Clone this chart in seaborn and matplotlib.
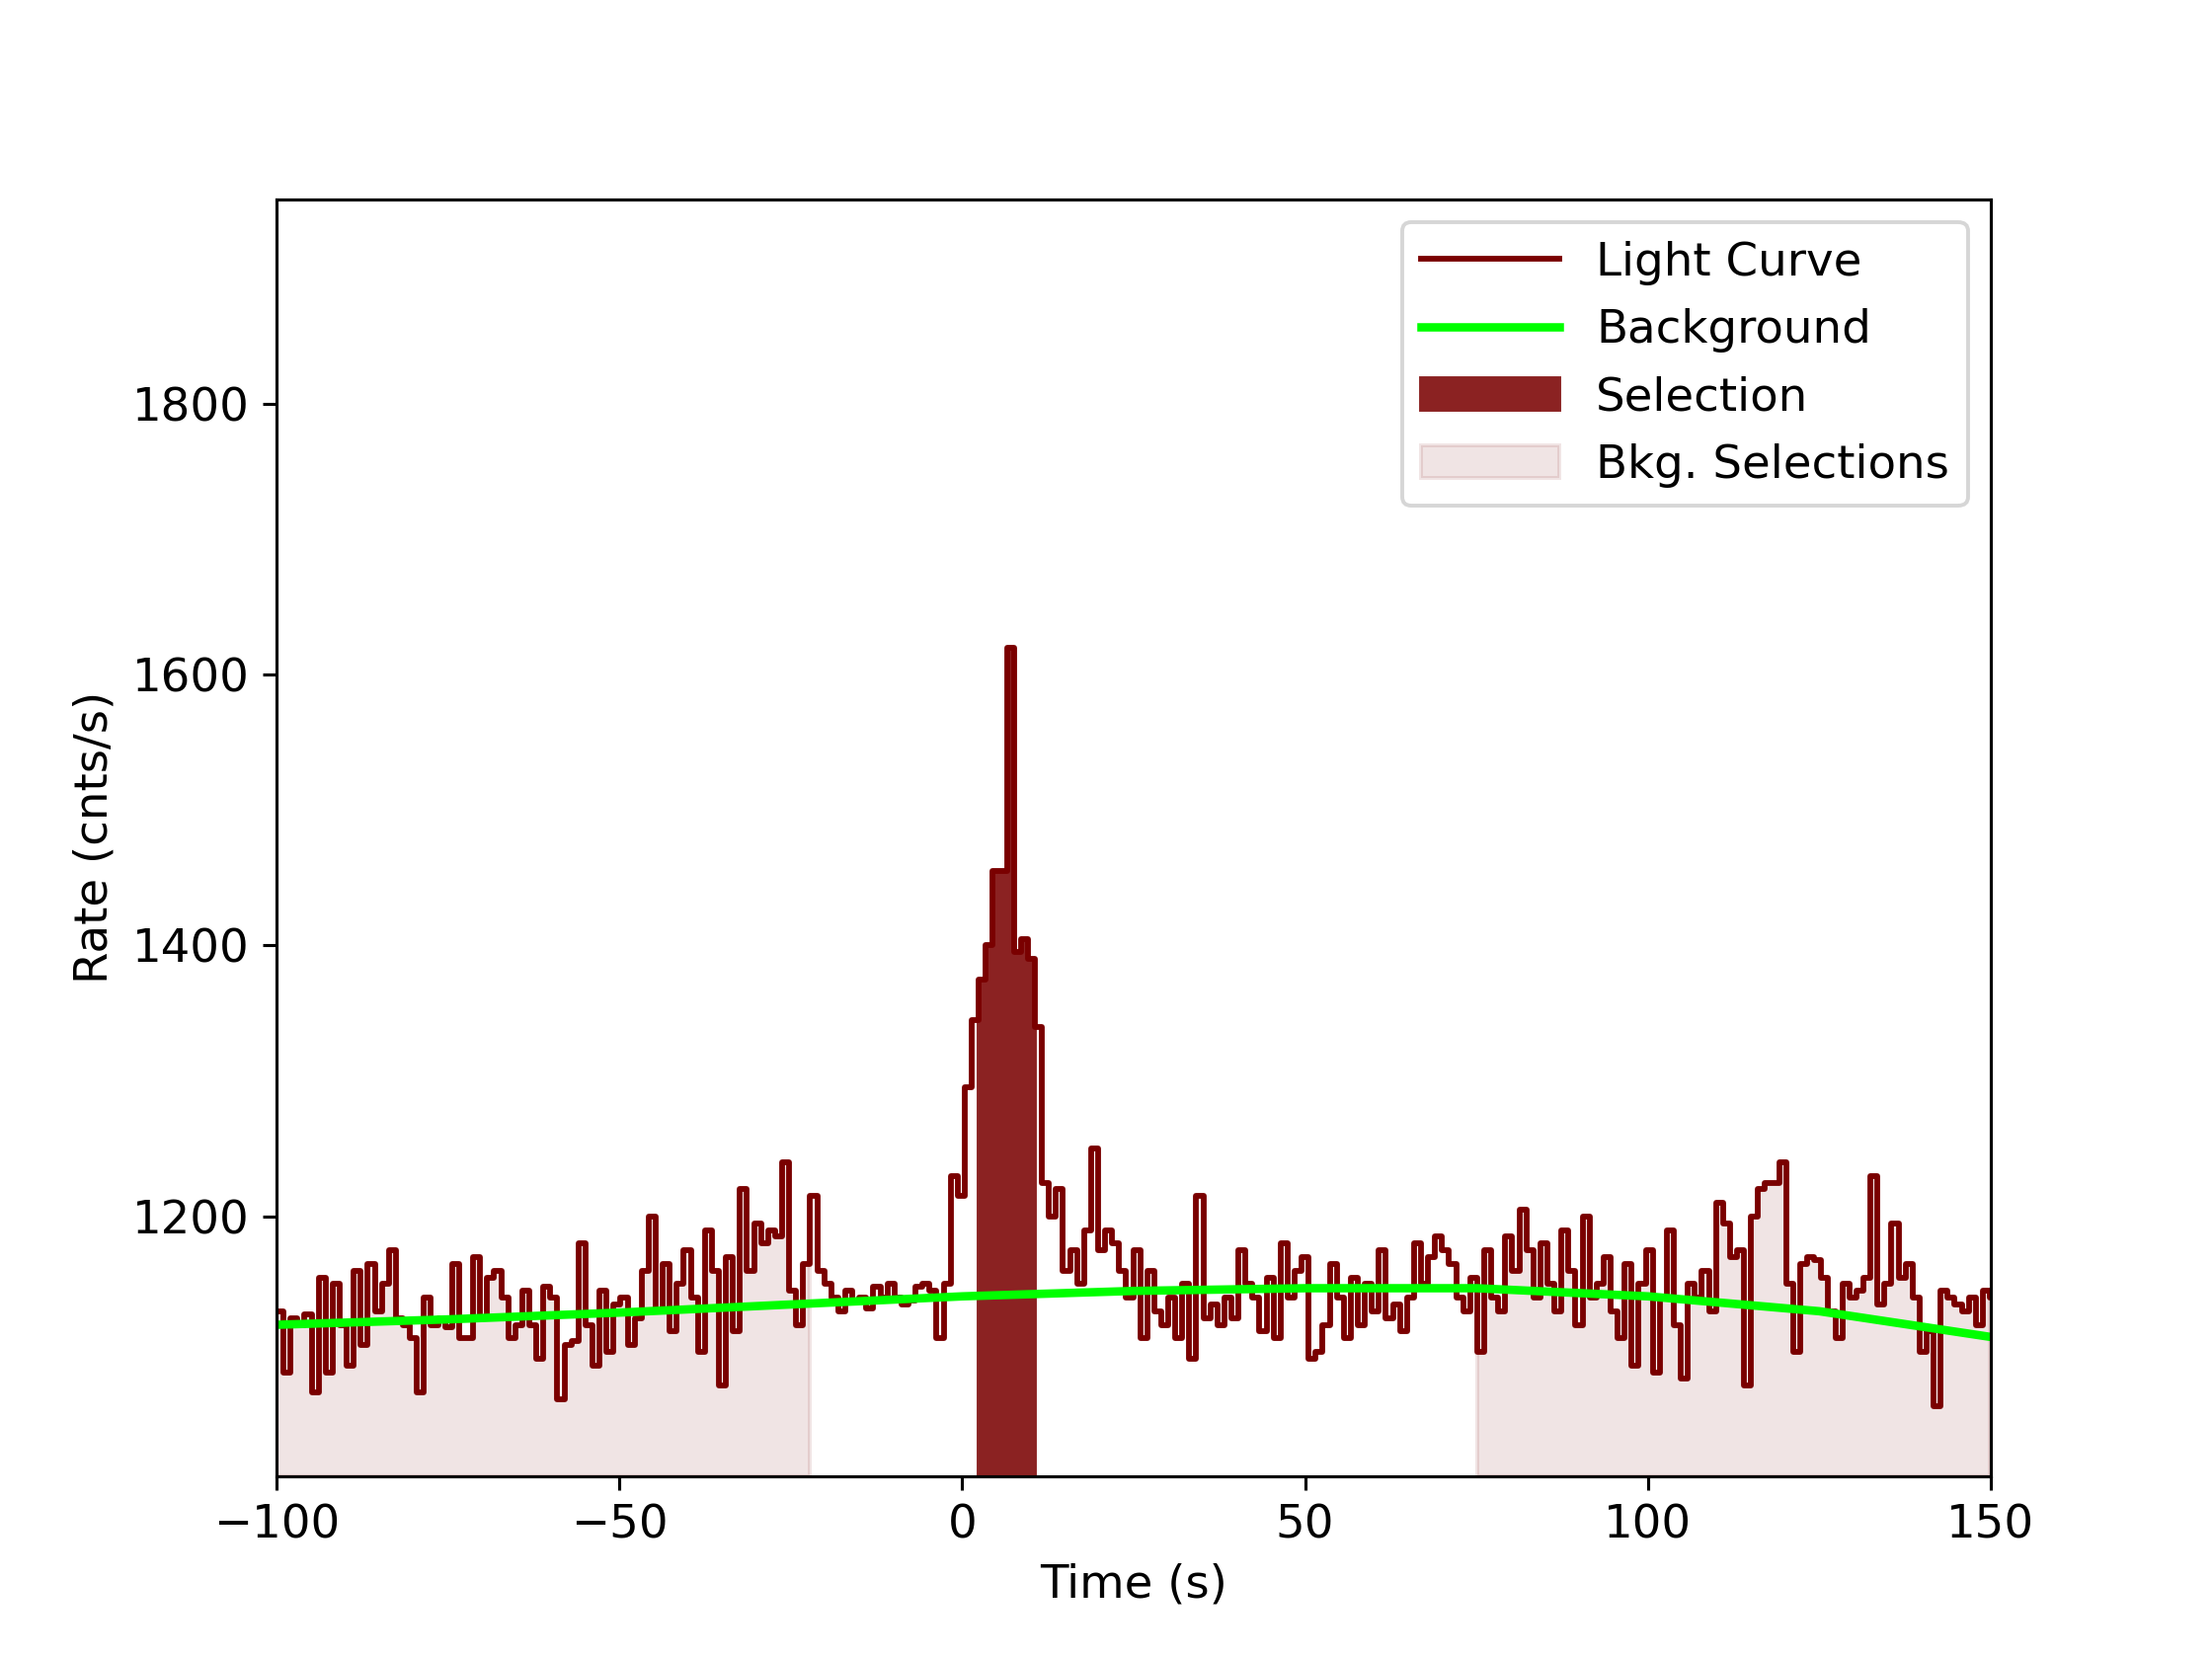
import numpy as np
import matplotlib
matplotlib.use("Agg")
import matplotlib.pyplot as plt
import seaborn as sns

binw = 1.024
t0 = -100.0
rates = [
1130,1085,1125,1120,1128,1070,1155,1085,1150,1120,1090,1160,1105,1165,1130,1150,1175,1125,1120,1110,
1070,1140,1120,1125,1118,1165,1110,1110,1170,1125,1155,1160,1140,1110,1120,1145,1120,1095,1148,1140,
1065,1105,1108,1180,1120,1090,1145,1100,1135,1140,1105,1125,1160,1200,1130,1165,1115,1150,1175,1140,
1100,1190,1160,1075,1170,1115,1220,1160,1195,1180,1190,1185,1240,1145,1120,1165,1215,1160,1150,1140,
1130,1145,1138,1140,1132,1148,1140,1150,1140,1135,1138,1148,1150,1145,1110,1150,1230,
1215,1295,1345,1375,1400,1455,1455,1620,1395,1405,1390,1340,1225,1200,1220,1160,1175,1150,1190,1250,
1175,1190,1180,1160,1140,1175,1110,1160,1130,1120,1140,1110,1150,1095,1215,1125,1135,1120,1140,1125,
1175,1150,1140,1115,1155,1110,1180,1140,1160,1170,1095,1100,1120,1165,1140,1110,1155,1120,1150,1130,
1175,1125,1135,1115,1140,1180,1150,1170,1185,1175,1165,1140,1130,1155,1100,1175,1140,1130,1185,1160,
1205,1175,1140,1180,1150,1130,1190,1160,1120,1200,1140,1150,1170,1130,1110,1165,1090,1150,1175,1085,
1140,1190,1120,1080,1150,1140,1160,1130,1210,1195,1170,1175,1075,1200,1220,1225,1225,1240,1150,1100,
1165,1170,1168,1155,1130,1110,1150,1140,1145,1155,1230,1135,1150,1195,1155,1165,1140,1100,1115,1060,
1145,1140,1135,1130,1140,1120,1145,1140,1130]
bg_t = [-100, -75, -50, -25, 0, 25, 50, 75, 100, 125, 150]
bg_r = [1120, 1124, 1129, 1135, 1141, 1145, 1147, 1147, 1141, 1130, 1111]
sel = (1.9, 11.2)
bkg_sel = [(-100, -22), (75, 150)]

rates = np.array(rates, float)
edges = t0 + binw * np.arange(len(rates) + 1)
x = np.append(edges[:-1], edges[-1])
y = np.append(rates, rates[-1])

fig, ax = plt.subplots(figsize=(8, 6), dpi=280)
ax.step(x, y, where="post", color="#7a0000", lw=1.5, label="Light Curve")
sns.lineplot(x=bg_t, y=bg_r, ax=ax, color="#00ff00", lw=2.2, label="Background")
m = (x >= sel[0]) & (x <= sel[1])
ax.fill_between(x, 1008, y, where=m, step="post", color="#8b2222", label="Selection")
for i, (a, b) in enumerate(bkg_sel):
    mm = (x >= a) & (x <= b)
    ax.fill_between(x, 1008, y, where=mm, step="post", color="#8b2222", alpha=0.12,
                    label="Bkg. Selections" if i == 0 else None)
ax.set_xlim(-100, 150)
ax.set_ylim(1008, 1951)
ax.set_yticks([1200, 1400, 1600, 1800])
ax.set_xlabel("Time (s)")
ax.set_ylabel("Rate (cnts/s)")
ax.legend(loc="upper right", fontsize=12, handlelength=3)
ax.tick_params(labelsize=12)
ax.xaxis.label.set_size(12)
ax.yaxis.label.set_size(12)
fig.savefig("out.png")
